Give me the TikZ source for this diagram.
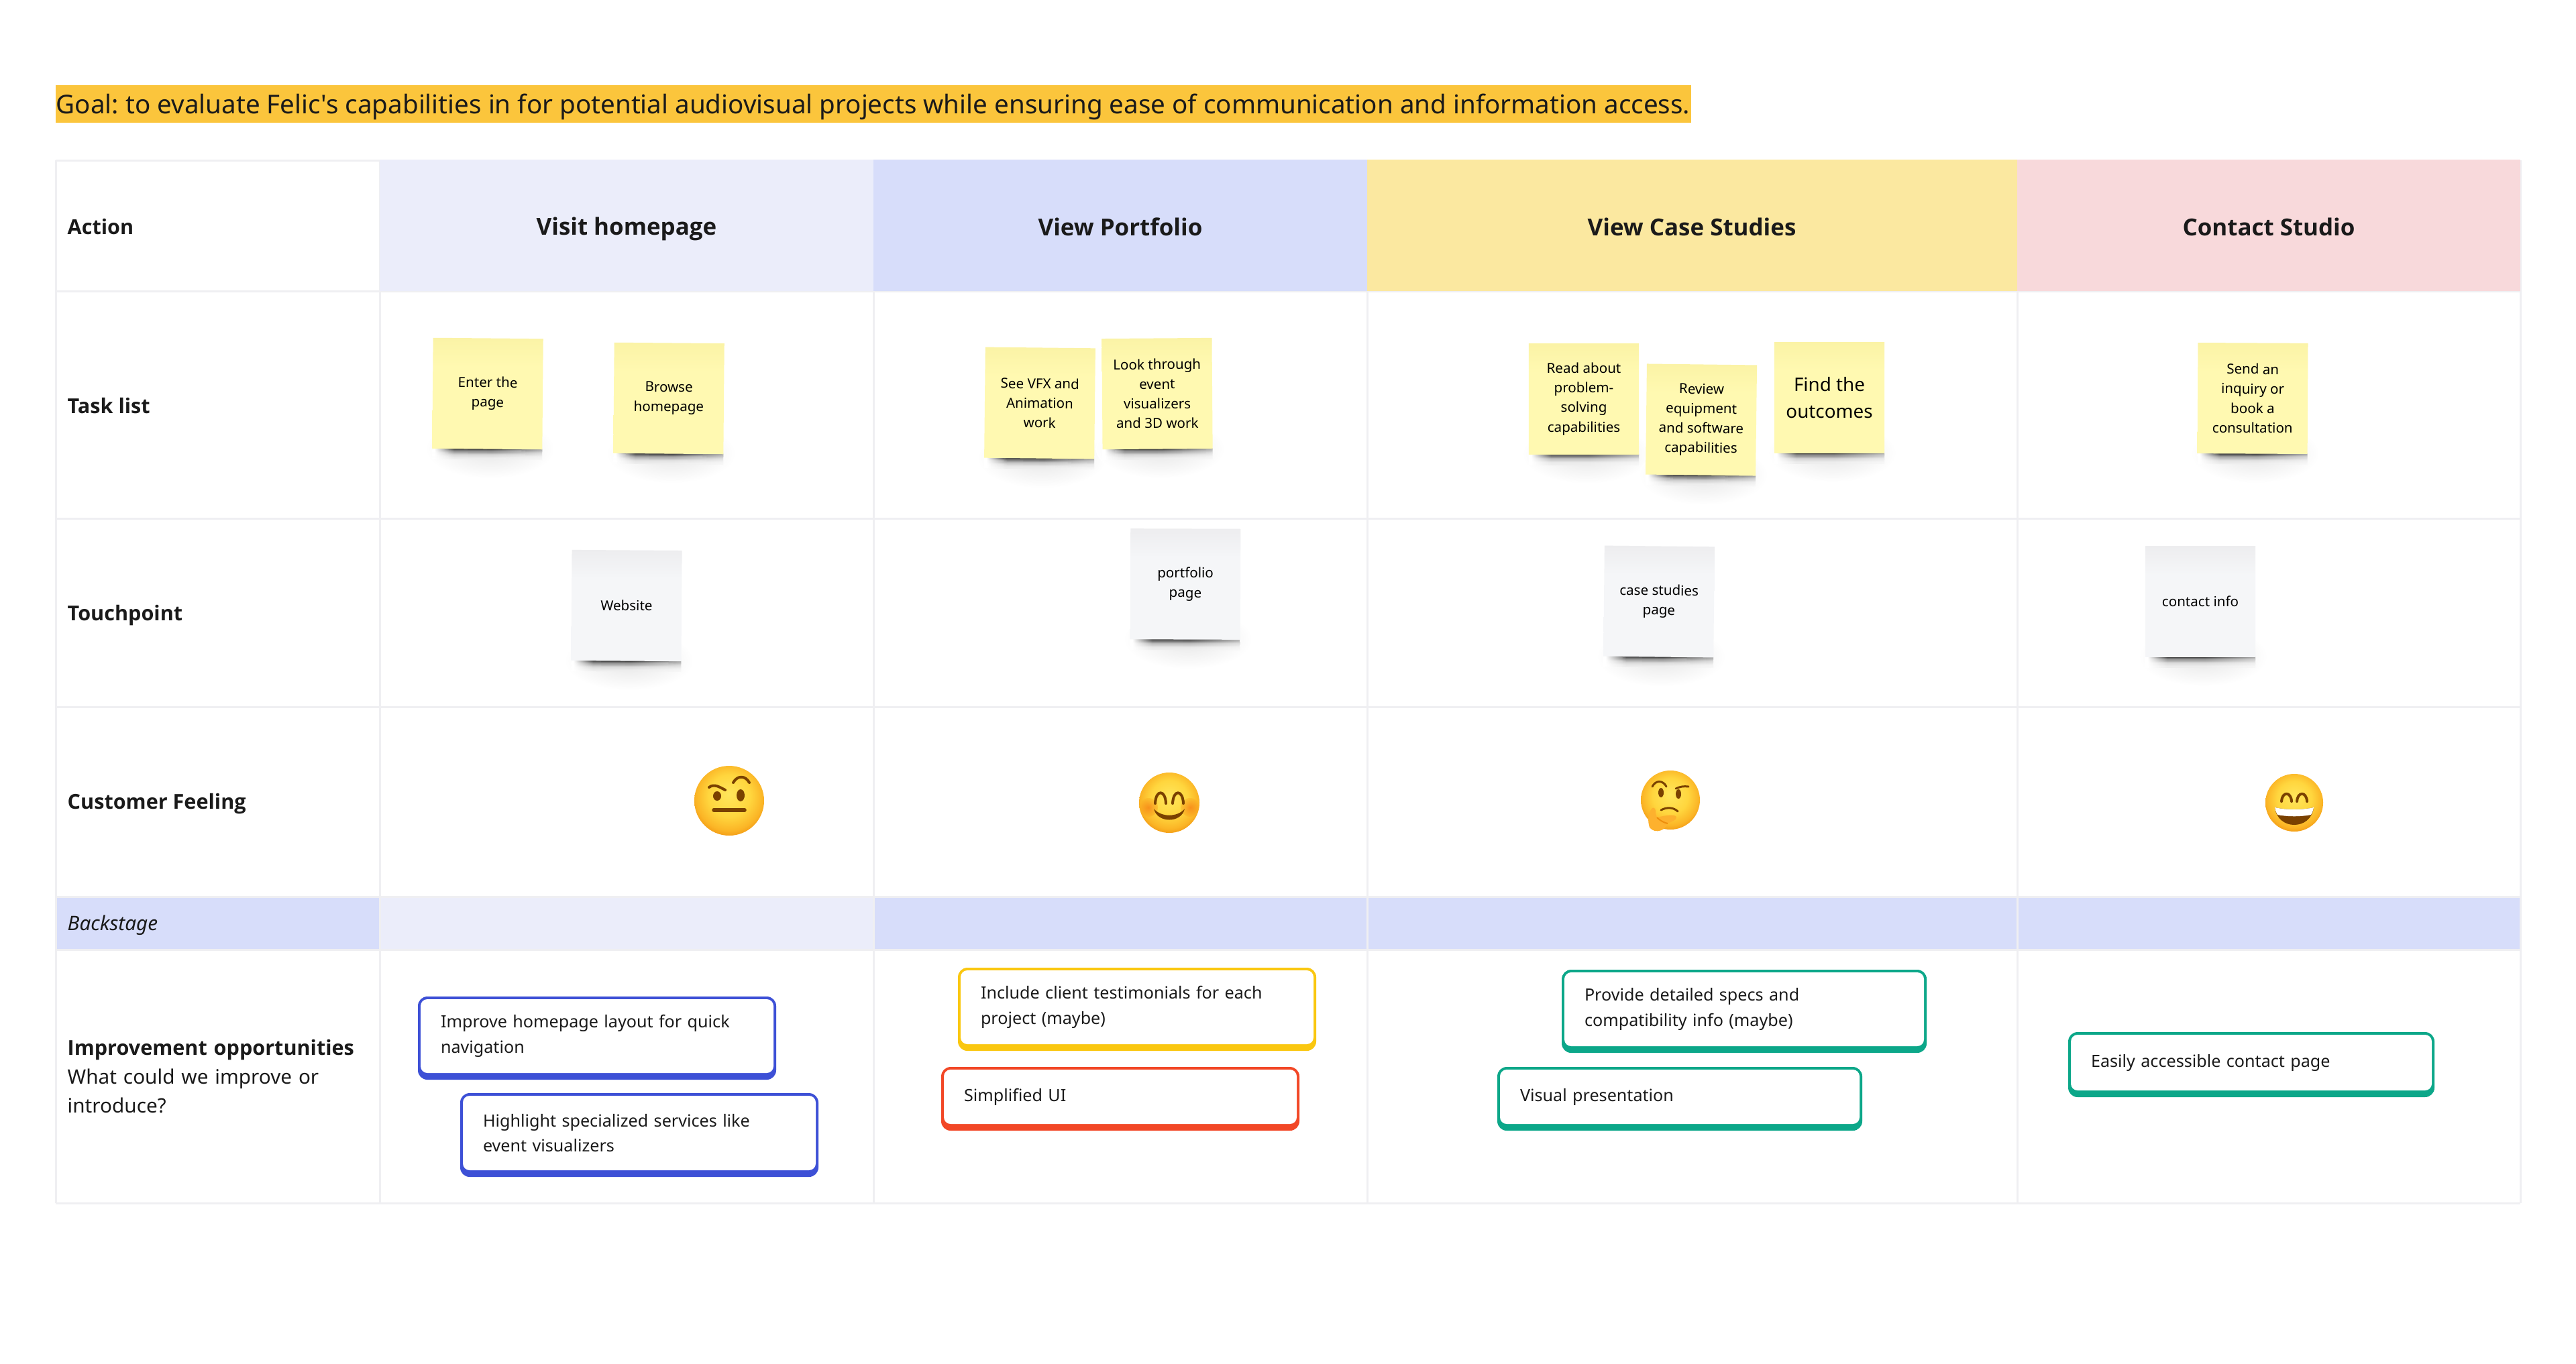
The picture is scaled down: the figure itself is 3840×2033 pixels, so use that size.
\documentclass[tikz,border=0pt]{standalone}
\usepackage{fontspec}
\setmainfont{Noto Sans}[Ligatures=TeXOff,BoldFont={Open Sans Bold}]
\frenchspacing
\definecolor{inkc}{HTML}{1A1A1A}
\definecolor{goalc}{HTML}{FBC53C}
\definecolor{gridc}{HTML}{EFEFF2}
\definecolor{lilacc}{HTML}{EBEDFA}
\definecolor{bluec}{HTML}{D7DDFA}
\definecolor{sandc}{HTML}{FBE8A0}
\definecolor{rosec}{HTML}{F8D9DB}
\definecolor{notec}{HTML}{FFF9B1}
\definecolor{notetopc}{HTML}{FBF3A6}
\definecolor{paperc}{HTML}{F5F6F8}
\definecolor{papertopc}{HTML}{EDEDEF}
\definecolor{cardblue}{HTML}{3D50D6}
\definecolor{cardgold}{HTML}{FAC710}
\definecolor{cardred}{HTML}{F24726}
\definecolor{cardgreen}{HTML}{0CA789}
\definecolor{browneye}{HTML}{7A4100}
\definecolor{handc}{HTML}{FDB12E}
\definecolor{faceA}{HTML}{FFE65C}
\definecolor{faceB}{HTML}{FFD63E}
\definecolor{faceC}{HTML}{FBB526}
\definecolor{faceD}{HTML}{EE8E0C}
\pgfdeclareradialshading{facegrad}{\pgfpoint{0bp}{5bp}}{color(0bp)=(faceA); color(15bp)=(faceB); color(24bp)=(faceC); color(30bp)=(faceD); color(50bp)=(faceD)}
\pgfdeclareverticalshading{yellowgrad}{100bp}{color(0bp)=(notec); color(62bp)=(notec); color(75bp)=(notetopc); color(100bp)=(notetopc)}
\pgfdeclareverticalshading{papergrad}{100bp}{color(0bp)=(paperc); color(62bp)=(paperc); color(75bp)=(papertopc); color(100bp)=(papertopc)}
% one thin slice of the shadow under a note
\pgfdeclarehorizontalshading[bandc]{bandgrad}{100bp}{color(0bp)=(white); color(26bp)=(white); color(35bp)=(bandc); color(52bp)=(bandc); color(75bp)=(bandc!45); color(100bp)=(bandc!45)}
\tikzset{
  goaltext/.style={anchor=west,inner sep=0pt,text=inkc,font=\fontsize{10.97}{14}\selectfont},
  headtext/.style={inner sep=0pt,text=inkc,font=\fontsize{9.93}{12}\bfseries\selectfont},
  rowtext/.style={anchor=west,inner sep=0pt,text=inkc,align=left,font=\fontsize{8.45}{12.2}\selectfont},
  rowhead/.style={rowtext,font=\fontsize{8.7}{12.2}\bfseries\selectfont},
  notebody/.style={minimum width=1.64cm,minimum height=1.65cm,inner sep=0pt,align=center,text=black,font=\fontsize{5.85}{8.3}\selectfont},
  yellownote/.style={notebody,shading=yellowgrad},
  papernote/.style={notebody,shading=papergrad},
  cardface/.style={fill=white,rounded corners=0.1cm,inner sep=0pt,text=inkc,align=left,font=\fontsize{7.15}{10.6}\selectfont},
  browny/.style={browneye,line cap=round},
}
% #1 name, #2 #3 centre, #4 angle, #5 style, #6 text
\newcommand{\stickynote}[6]{
\begin{scope}[shift={(#2,#3)},rotate=#4]
\shade[inner color=black!10,outer color=white] (4,82) ellipse (96 and 44);
\foreach \i/\k in {0/72,1/55,2/40,3/28,4/19,5/13,6/9,7/7}{
\colorlet{bandc}{black!\k}
\shade[shading=bandgrad] (-82,{82+\i*2}) rectangle (82,{84.3+\i*2});
}
\end{scope}
\node[#5,rotate=#4] (#1) at (#2,#3) {#6};
}
% #1 name, #2 colour, #3 #4 top left, #5 width, #6 height, #7 text
\newcommand{\ideacard}[7]{
\fill[#2,rounded corners=0.14cm] (#3,#4) rectangle ++(#5,#6);
\node[cardface,minimum width={0.01cm*(#5-8)},minimum height={0.01cm*(#6-14)},text width={0.01cm*(#5-68)}] (#1) at ({#3+#5/2},{#4+(#6-6)/2}) {#7};
}
\newcommand{\facebase}[1]{\shade[shading=facegrad] (0,0) circle (#1);}
\begin{document}
\begin{tikzpicture}[x=0.01cm,y=-0.01cm,line join=round]
\useasboundingbox (0,0) rectangle (3840,2033);
\fill[white] (0,0) rectangle (3840,2033);
% goal line
\fill[goalc] (83,127) rectangle (2521,183);
\node[goaltext] (goal) at (83,159) {Goal: to evaluate Felic's capabilities in for potential audiovisual projects while ensuring ease of communication and information access.};
% backstage band
\fill[bluec] (83,1337) rectangle (566,1416);
\fill[lilacc] (566,1337) rectangle (1302,1416);
\fill[bluec] (1302,1337) rectangle (3757,1416);
% grid
\foreach \yy in {239,434,773,1054,1337,1416,1794} \draw[gridc,line width=0.03cm] (83,\yy)--(3757,\yy);
\foreach \xx in {83,566,1302,2038,3007,3757} \draw[gridc,line width=0.03cm] (\xx,239)--(\xx,1794);
% header cells
\fill[lilacc] (566,238) rectangle (1302,434);
\fill[bluec] (1302,238) rectangle (2038,434);
\fill[sandc] (2038,238) rectangle (3007,434);
\fill[rosec] (3007,238) rectangle (3757,434);
\node[headtext] (visit) at (934,341) {Visit homepage};
\node[headtext] (portfolio) at (1670,338) {View Portfolio};
\node[headtext] (cases) at (2522,338) {View Case Studies};
\node[headtext] (contact) at (3382,338) {Contact Studio};
% row labels
\node[rowhead] (action) at (100,338) {Action};
\node[rowhead] (tasks) at (100,605) {Task list};
\node[rowhead] (touch) at (100,918) {Touchpoint};
\node[rowhead] (feeling) at (100,1199) {Customer Feeling};
\node[rowtext] (backstage) at (100,1380) {\itshape Backstage};
\node[rowtext,text width=4.5cm] (improve) at (100,1605) {{\fontsize{8.7}{12.2}\bfseries\selectfont Improvement opportunities}\\ What could we improve or\\ introduce?};
% task notes
\stickynote{enter}{727}{587}{-0.5}{yellownote}{Enter the\\ page}
\stickynote{browse}{997}{594}{-0.5}{yellownote}{Browse\\ homepage}
\stickynote{vfx}{1550}{601}{-0.6}{yellownote}{See VFX and\\ Animation\\ work}
\stickynote{look}{1725}{587}{0.4}{yellownote}{Look through\\ event\\ visualizers\\ and 3D work}
\stickynote{read}{2361}{595}{0}{yellownote}{Read about\\ problem-\\ solving\\ capabilities}
\stickynote{review}{2536}{626}{-0.7}{yellownote}{Review\\ equipment\\ and software\\ capabilities}
\stickynote{outcomes}{2727}{593}{0}{yellownote,font=\fontsize{7.9}{11.2}\selectfont}{Find the\\ outcomes}
\stickynote{inquiry}{3358}{594}{-0.3}{yellownote}{Send an\\ inquiry or\\ book a\\ consultation}
% touchpoint notes
\stickynote{website}{934}{903}{-0.4}{papernote}{Website}
\stickynote{portpage}{1767}{871}{-0.2}{papernote}{portfolio\\ page}
\stickynote{casepage}{2473}{897}{-0.6}{papernote}{case studies\\ page}
\stickynote{contactinfo}{3280}{897}{0}{papernote}{contact info}
% raised brow
\begin{scope}[shift={(1087,1194)}]
\facebase{52}
\fill[browny] (-18,-7) ellipse (6 and 7);
\fill[browny] (17,-8) ellipse (6 and 9);
\draw[browny,line width=0.055cm] (-23,14)--(23,14);
\draw[browny,line width=0.04cm] (-30,-20) .. controls (-22,-26) and (-14,-20) .. (-6,-16);
\draw[browny,line width=0.04cm] (6,-27) .. controls (12,-38) and (24,-38) .. (30,-27);
\end{scope}
% smiling eyes
\begin{scope}[shift={(1743,1197)}]
\facebase{45}
\begin{scope}
\clip (0,0) circle (45);
\shade[inner color=faceD!70!red,outer color=faceC,opacity=.55] (-31,7) circle (14);
\shade[inner color=faceD!70!red,outer color=faceC,opacity=.55] (31,7) circle (14);
\end{scope}
\draw[browny,line width=0.04cm] (-21,1) .. controls (-20,-20) and (-6,-20) .. (-5,1);
\draw[browny,line width=0.04cm] (5,1) .. controls (6,-20) and (20,-20) .. (21,1);
\fill[browny] (-23,9) .. controls (-12,22) and (12,22) .. (23,9) .. controls (18,31) and (-18,31) .. (-23,9);
\end{scope}
% thinking
\begin{scope}[shift={(2490,1193)}]
\facebase{44}
\fill[browny] (-14,-11) ellipse (4 and 7);
\fill[browny] (12,-9) ellipse (4 and 7);
\draw[browny,line width=0.03cm] (-27,-20) .. controls (-22,-30) and (-11,-30) .. (-6,-20);
\draw[browny,line width=0.03cm] (8,-17) .. controls (14,-20) and (20,-21) .. (27,-20);
\draw[browny,line width=0.03cm] (-14,15) .. controls (-5,10) and (5,11) .. (11,17);
\fill[handc] (-31,41) .. controls (-36,25) and (-30,15) .. (-27,12) .. controls (-24,10) and (-21,14) .. (-22,20) -- (-20,26) .. controls (-12,24) and (5,20) .. (9,25) .. controls (10,30) and (2,32) .. (-4,35) .. controls (-6,44) and (-22,52) .. (-31,41);
\draw[faceD,line width=0.02cm] (-20,26) .. controls (-14,32) and (-8,34) .. (-4,35);
\end{scope}
% big grin
\begin{scope}[shift={(3420,1197)}]
\facebase{43}
\draw[browny,line width=0.04cm] (-19,-2) .. controls (-18,-17) and (-5,-17) .. (-4,-2);
\draw[browny,line width=0.04cm] (4,-2) .. controls (5,-17) and (18,-17) .. (19,-2);
\fill[browny] (-29,7) .. controls (-12,11) and (12,11) .. (29,7) .. controls (27,24) and (14,33) .. (0,33) .. controls (-14,33) and (-27,24) .. (-29,7);
\fill[white] (-29,7) .. controls (-12,11) and (12,11) .. (29,7) .. controls (28,13) and (26,16) .. (25,18) .. controls (10,21) and (-10,21) .. (-25,18) .. controls (-26,16) and (-28,13) .. (-29,7);
\end{scope}
% improvement cards
\ideacard{layout}{cardblue}{623}{1486}{534}{124}{Improve homepage layout for quick\\ navigation}
\ideacard{services}{cardblue}{686}{1630}{534}{125}{Highlight specialized services like\\ event visualizers}
\ideacard{testimonials}{cardgold}{1428}{1443}{534}{124}{Include client testimonials for each\\ project (maybe)}
\ideacard{simplified}{cardred}{1403}{1591}{534}{95}{Simplified UI}
\ideacard{specs}{cardgreen}{2328}{1446}{544}{124}{Provide detailed specs and\\ compatibility info (maybe)}
\ideacard{visual}{cardgreen}{2232}{1591}{544}{95}{Visual presentation}
\ideacard{easy}{cardgreen}{3083}{1539}{546}{97}{Easily accessible contact page}
\end{tikzpicture}
\end{document}
